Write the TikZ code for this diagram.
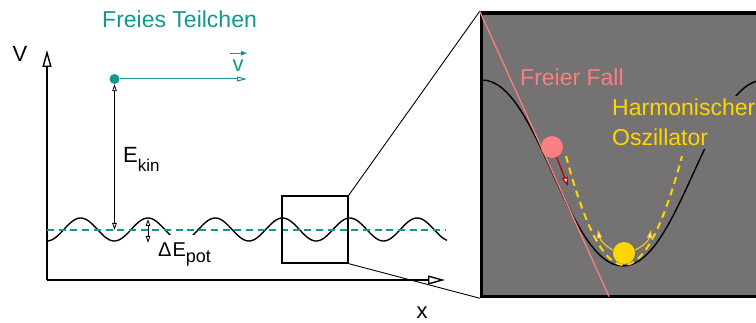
\documentclass[tikz,border=0pt]{standalone}
\usepackage{fontspec}
\setmainfont{Liberation Sans}
\usetikzlibrary{arrows.meta}
\definecolor{tealc}{RGB}{20,152,142}
\definecolor{pinkc}{RGB}{248,128,128}
\definecolor{goldc}{RGB}{255,214,0}
\definecolor{darkredc}{RGB}{185,0,0}
\definecolor{boxgray}{RGB}{116,114,115}
\begin{document}
\begin{tikzpicture}[x=1pt,y=-1pt,
  bigtext/.style={font=\fontsize{23}{30}\selectfont, inner sep=0pt},
  midtext/.style={font=\fontsize{22}{26}\selectfont, inner sep=0pt},
  axisline/.style={line width=1.4pt, -{Triangle[fill=white,length=17pt,width=9pt]}},
  thinarrow/.style={line width=0.8pt, {Triangle[fill=white,length=7pt,width=4.5pt]}-{Triangle[fill=white,length=7pt,width=4.5pt]}},
  ball/.style={circle, inner sep=0pt, minimum size=22pt},
  boxframe/.style={draw, inner sep=0pt}]
\useasboundingbox (0,0) rectangle (756,323);
\clip (0,0) rectangle (756,323);

% axes
\coordinate (origin) at (47,280);
\coordinate (ytip) at (47,50);
\coordinate (xtip) at (445,280);
\draw[axisline] (origin) -- (ytip);
\draw[axisline] (origin) -- (xtip);
\node[midtext, anchor=base] (vaxis) at (20,62) {V};
\node[midtext, anchor=base] (xaxis) at (422,319) {x};

% periodic potential
\draw[line width=1.4pt] plot[domain=47:447, samples=241, smooth] (\x,{229.5+11.5*cos(5.3492*(\x-47))});
\draw[tealc, line width=2pt, dash pattern=on 7pt off 4.7pt] (47,230) -- (445,230);

% free particle
\node[bigtext, text=tealc, anchor=base west] (freies) at (102,28) {Freies Teilchen};
\node[circle, fill=tealc, minimum size=10pt, inner sep=0pt] (dot) at (114.5,79) {};
\coordinate (vend) at (247,79);
\draw[tealc, line width=1pt, -{Triangle[fill=white,length=10pt,width=5pt]}] (dot) -- (vend);
\node[midtext, text=tealc, anchor=base] (vlab) at (238,72) {v};
\draw[tealc, line width=1.2pt, -{Triangle[length=6pt,width=4.5pt]}] ([xshift=-8pt,yshift=7pt]vlab.north) -- ([xshift=9pt,yshift=7pt]vlab.north);
\coordinate (ekinbot) at (114.5,230);
\draw[thinarrow] (dot.south) -- (ekinbot);
\node[midtext, anchor=base west] (ekin) at (123,163) {E\raisebox{-9pt}{\fontsize{17}{17}\selectfont kin}};

% potential height
\coordinate (crest) at (148,219);
\coordinate (trough) at (148,243);
\draw[thinarrow] (crest) -- (trough);
\node[font=\fontsize{20}{24}\selectfont, anchor=base west, fill=white, inner xsep=1pt, inner ysep=0pt, text height=22pt] (epot) at (157,257) {Δ\kern1pt E\raisebox{-6pt}{\fontsize{18}{18}\selectfont pot}};

% zoom box
\node[boxframe, line width=1.3pt, minimum width=66pt, minimum height=67pt] (zoombox) at (315,229.5) {};
\node[boxframe, line width=3.5pt, fill=boxgray, minimum width=320pt, minimum height=283.5pt] (bigbox) at (641.5,154.75) {};
\draw[line width=0.9pt] (zoombox.north east) -- (bigbox.north west);
\draw[line width=0.9pt] (zoombox.south east) -- (bigbox.south west);

\begin{scope}
\clip (bigbox.north west) rectangle (bigbox.south east);
\draw[line width=1.4pt] (482,80) .. controls (538,80) and (567,266) .. (623,266) .. controls (679,266) and (708,80) .. (764,80);
\coordinate (fallend) at (609,296.5);
\draw[pinkc, line width=1.3pt] (bigbox.north west) -- (fallend);
\draw[goldc, line width=2pt, dash pattern=on 7pt off 5pt] plot[domain=-58:58, samples=60, smooth] ({624+\x},{265-0.0324*\x*\x});
\node[ball, fill=pinkc] (pball) at (552,147) {};
\coordinate (redtip) at (568,186);
\draw[darkredc, line width=1.2pt, -{Triangle[fill=white,length=9pt,width=6pt]}] (pball.-66) -- (redtip);
\node[ball, fill=goldc] (yball) at (624,253) {};
\coordinate (ltip) at (598,230);
\coordinate (rtip) at (651,230);
\draw[goldc, line width=1pt, -{Triangle[fill=white,length=8pt,width=5pt]}] (yball.165) .. controls (605,246) and (600,240) .. (ltip);
\draw[goldc, line width=1pt, -{Triangle[fill=white,length=8pt,width=5pt]}] (yball.15) .. controls (644,246) and (649,240) .. (rtip);
\end{scope}
\node[bigtext, text=pinkc, anchor=base west] (fall) at (520,86) {Freier Fall};
\node[bigtext, text=goldc, anchor=north west, fill=boxgray, inner sep=3pt, align=left] (harm) at (609,96) {Harmonischer\\Oszillator};
\end{tikzpicture}
\end{document}
